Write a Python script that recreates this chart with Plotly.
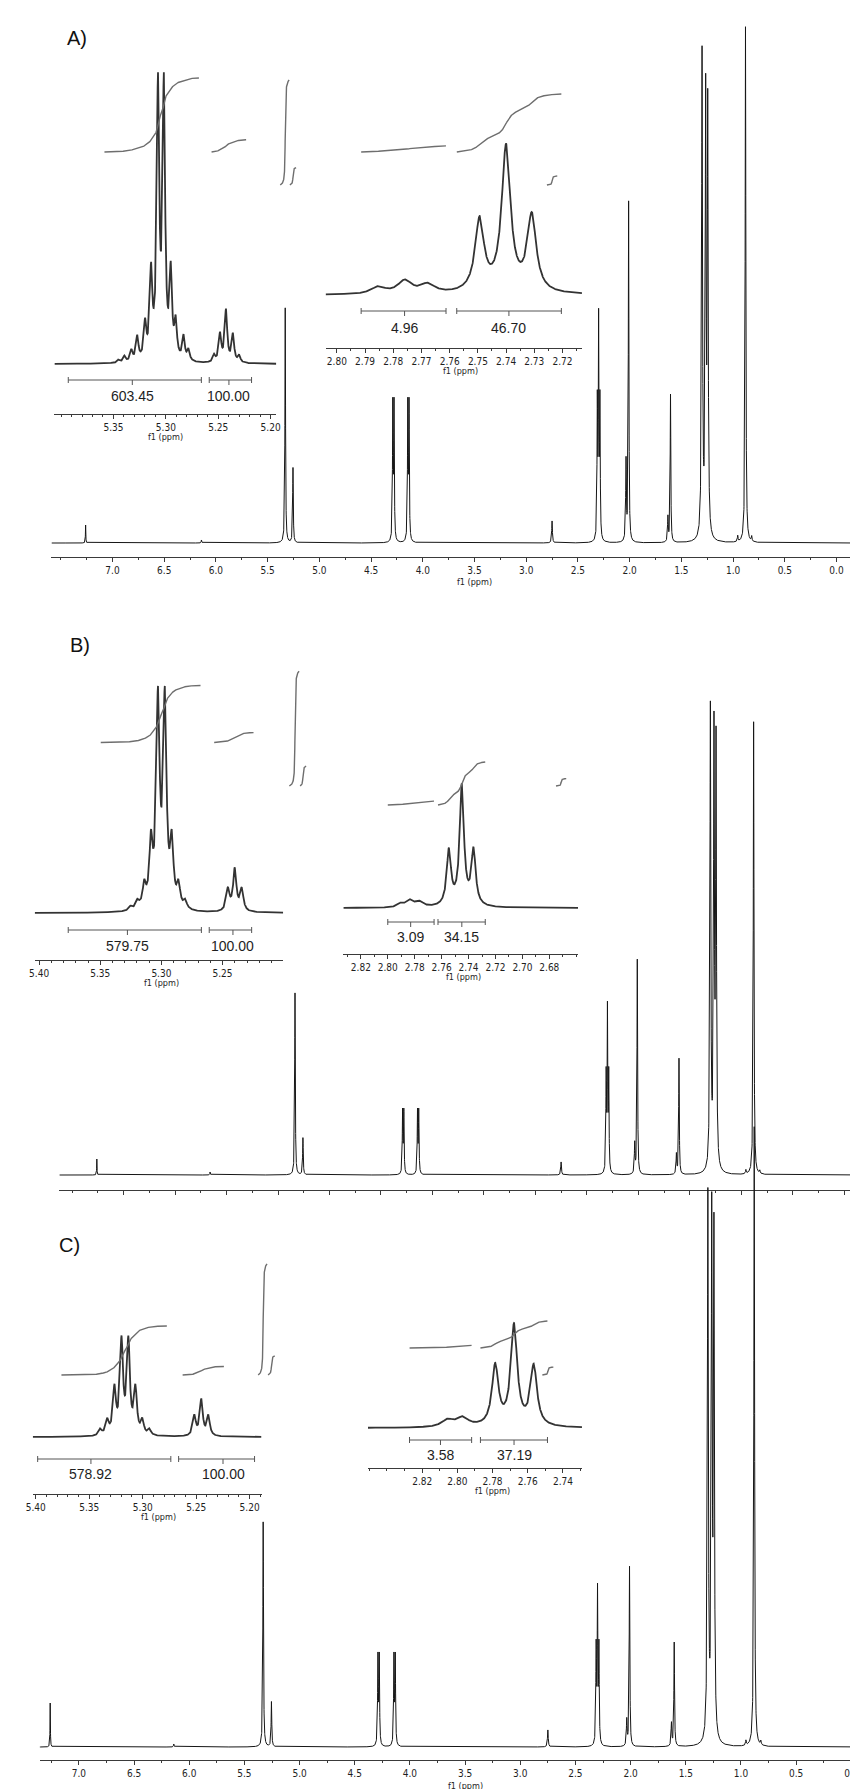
import numpy as np
import plotly.graph_objects as go

W, H = 858, 1789

# ======================= DATA =======================
# ---------- Panel A ----------
A_main_ppm = [7.26, 6.14, 5.330, 5.255, 4.290, 4.278, 4.145, 4.133, 2.750,
              2.3125, 2.300, 2.2875, 2.035, 2.010, 1.630, 1.605,
              1.300, 1.265, 1.245, 0.955, 0.880, 0.820]
A_main_int = [18, 3, 235, 75, 135, 135, 135, 135, 22,
              135, 215, 135, 80, 340, 25, 148,
              485, 435, 425, 6, 516, 5]
A_main_lw = [0.002, 0.003, 0.0035, 0.0035, 0.0035, 0.0035, 0.0035, 0.0035, 0.004,
             0.0035, 0.0035, 0.0035, 0.004, 0.0035, 0.004, 0.0035,
             0.005, 0.005, 0.005, 0.004, 0.004, 0.004]

A_in1_ppm = [5.345, 5.3395, 5.3329, 5.3273, 5.3198, 5.3141, 5.3075, 5.3019, 5.2953,
             5.2906, 5.2831, 5.2784, 5.254, 5.2483, 5.2426, 5.236, 5.230]
A_in1_int = [3, 6, 11, 24, 35, 84, 270, 270, 84, 35, 24, 11, 7, 28, 52, 28, 7]
A_in1_lw = [0.0014] * 17

A_in2_ppm = [2.7853, 2.7759, 2.7678, 2.7494, 2.7400, 2.7309]
A_in2_int = [7, 13, 9, 72, 145, 76]
A_in2_lw = [0.003, 0.003, 0.003, 0.0019, 0.0019, 0.0019]

A_in1_regions = [(5.3586, 5.2684), (5.2564, 5.2234)]
A_in1_values = [603.45, 100.00]
A_in1_bars = [(5.3931, 5.2661), (5.2586, 5.2182)]
A_in1_label_ppm = [5.332, 5.2398]
A_in2_regions = [(2.7914, 2.7613), (2.7575, 2.7204)]
A_in2_values = [4.96, 46.70]
A_in2_bars = [(2.7914, 2.7613), (2.7575, 2.7204)]
A_in2_label_ppm = [2.776, 2.739]
A_main_regions = [(5.378, 5.292), (5.285, 5.225), (2.80, 2.70)]
A_main_values = [603.45, 100.00, 4.96 + 46.70]

# ---------- Panel B ----------
B_main_ppm = [7.26, 6.16, 5.335, 5.258, 4.290, 4.278, 4.145, 4.133, 2.750,
              2.3125, 2.300, 2.2875, 2.035, 2.010, 1.630, 1.605,
              1.300, 1.265, 1.245, 0.955, 0.880, 0.820]
B_main_int = [16, 3, 182, 37, 62, 62, 62, 62, 13,
              95, 160, 95, 30, 215, 20, 116,
              462, 430, 420, 4, 453, 3]
B_main_lw = A_main_lw[:]

B_in1_ppm = [5.325, 5.3195, 5.3140, 5.3085, 5.3028, 5.2972, 5.2915, 5.286, 5.2805,
             5.2456, 5.2400, 5.2343]
B_in1_int = [4, 8, 22, 62, 205, 205, 62, 22, 8, 22, 42, 22]
B_in1_lw = [0.0016] * 12

B_in2_ppm = [2.790, 2.783, 2.776, 2.7546, 2.745, 2.7363]
B_in2_int = [4, 7, 5, 55, 120, 55]
B_in2_lw = [0.003, 0.003, 0.003, 0.0019, 0.0019, 0.0019]

B_in1_regions = [(5.3496, 5.268), (5.2569, 5.2246)]
B_in1_values = [579.75, 100.00]
B_in1_bars = [(5.3762, 5.2673), (5.2609, 5.2262)]
B_in1_label_ppm = [5.3278, 5.2415]
B_in2_regions = [(2.800, 2.7656), (2.7627, 2.7276)]
B_in2_values = [3.09, 34.15]
B_in2_bars = [(2.800, 2.7656), (2.7627, 2.7276)]
B_in2_label_ppm = [2.783, 2.745]
B_main_regions = [(5.390, 5.295), (5.285, 5.225), (2.80, 2.70)]
B_main_values = [579.75, 100.00, 3.09 + 34.15]

# ---------- Panel C ----------
C_main_ppm = [7.26, 6.14, 5.330, 5.255, 4.290, 4.278, 4.145, 4.133, 2.750,
              2.3125, 2.300, 2.2875, 2.035, 2.010, 1.630, 1.605,
              1.300, 1.265, 1.245, 0.955, 0.880, 0.820]
C_main_int = [44, 3, 225, 45, 88, 88, 88, 88, 17,
              95, 150, 95, 26, 180, 23, 104,
              545, 515, 500, 5, 620, 4]
C_main_lw = A_main_lw[:]

C_in1_ppm = [5.3396, 5.3331, 5.3264, 5.3198, 5.3134, 5.3068, 5.3003, 5.2937,
             5.2517, 5.2452, 5.2386]
C_in1_int = [6, 14, 45, 92, 92, 45, 14, 6, 20, 36, 20]
C_in1_lw = [0.00165] * 11

C_in2_ppm = [2.8055, 2.797, 2.7785, 2.7678, 2.7566]
C_in2_int = [7, 9, 60, 100, 60]
C_in2_lw = [0.004, 0.004, 0.0022, 0.0022, 0.0022]

C_in1_regions = [(5.3760, 5.2774), (5.2627, 5.2240)]
C_in1_values = [578.92, 100.00]
C_in1_bars = [(5.3982, 5.2737), (5.2664, 5.1954)]
C_in1_label_ppm = [5.3484, 5.2249]
C_in2_regions = [(2.8272, 2.7919), (2.7869, 2.7488)]
C_in2_values = [3.58, 37.19]
C_in2_bars = [(2.8272, 2.7919), (2.7869, 2.7488)]
C_in2_label_ppm = [2.8096, 2.7678]
C_main_regions = [(5.375, 5.295), (5.285, 5.225), (2.80, 2.70)]
C_main_values = [578.92, 100.00, 3.58 + 37.19]

# ---------- tick labels ----------
MAIN_TICKS = ["7.0", "6.5", "6.0", "5.5", "5.0", "4.5", "4.0", "3.5",
              "3.0", "2.5", "2.0", "1.5", "1.0", "0.5", "0.0"]
A_IN1_TICKS = ["5.35", "5.30", "5.25", "5.20"]
BC_IN1_TICKS = ["5.40", "5.35", "5.30", "5.25", "5.20"]
A_IN2_TICKS = ["2.80", "2.79", "2.78", "2.77", "2.76", "2.75", "2.74", "2.73", "2.72"]
B_IN2_TICKS = ["2.82", "2.80", "2.78", "2.76", "2.74", "2.72", "2.70", "2.68"]
C_IN2_TICKS = ["2.82", "2.80", "2.78", "2.76", "2.74"]
PANEL_LABELS = ["A)", "B)", "C)"]
AXIS_TITLE = "f1 (ppm)"

# ======================= STYLE / LAYOUT =======================
AX = '#3a3a3a'
TXT = '#1e1e1e'
C_MAIN = '#161616'
C_INSET = '#333333'
C_INT = '#6e6e6e'
TFONT = 'Liberation Sans Narrow, Arial Narrow, DejaVu Sans Condensed, Liberation Sans, sans-serif'
LFONT = 'Liberation Sans, Arial, sans-serif'


def yp(px):
    return 1 - px / H


PANELS = [
    dict(label_xy=(63, 30),
         main=dict(x0=37, x1=848, rng=(7.59, -0.1415), axis=549, base=535, top=8,
                   labels=True, f1=(3.5, 574), peaks=(A_main_ppm, A_main_int, A_main_lw),
                   ticks=MAIN_TICKS, regions=A_main_regions, values=A_main_values,
                   int_base=177, k=0.174),
         in1=dict(x0=40, x1=265, rng=(5.4063, 5.1946), axis=406, base=356, top=50,
                  minor=0.01, f1=(5.30, 429), bar_y=372, val_y=388,
                  peaks=(A_in1_ppm, A_in1_int, A_in1_lw), ticks=A_IN1_TICKS,
                  regions=A_in1_regions, values=A_in1_values, bars=A_in1_bars,
                  label_ppm=A_in1_label_ppm, int_base=144, k=0.1226),
         in2=dict(x0=315, x1=575, rng=(2.804, 2.7131), axis=340, base=287, top=110,
                  minor=0.005, f1=(2.756, 363), bar_y=303, val_y=320,
                  peaks=(A_in2_ppm, A_in2_int, A_in2_lw), ticks=A_IN2_TICKS,
                  regions=A_in2_regions, values=A_in2_values, bars=A_in2_bars,
                  label_ppm=A_in2_label_ppm, int_base=144, k=1.242),
         integ=(40, 200)),
    dict(label_xy=(66, 637),
         main=dict(x0=45, x1=858, rng=(7.624, -0.1631), axis=1182, base=1167, top=640,
                   labels=False, f1=None, peaks=(B_main_ppm, B_main_int, B_main_lw),
                   ticks=MAIN_TICKS, regions=B_main_regions, values=B_main_values,
                   int_base=778, k=0.198),
         in1=dict(x0=20, x1=272, rng=(5.4036, 5.2004), axis=952, base=905, top=640,
                  minor=0.01, f1=(5.30, 975), bar_y=922, val_y=938,
                  peaks=(B_in1_ppm, B_in1_int, B_in1_lw), ticks=BC_IN1_TICKS,
                  regions=B_in1_regions, values=B_in1_values, bars=B_in1_bars,
                  label_ppm=B_in1_label_ppm, int_base=734.5, k=0.0983),
         in2=dict(x0=333, x1=571, rng=(2.833, 2.6587), axis=946, base=900, top=740,
                  minor=0.01, f1=(2.744, 969), bar_y=914, val_y=929,
                  peaks=(B_in2_ppm, B_in2_int, B_in2_lw), ticks=B_IN2_TICKS,
                  regions=B_in2_regions, values=B_in2_values, bars=B_in2_bars,
                  label_ppm=B_in2_label_ppm, int_base=797, k=1.259),
         integ=(640, 800)),
    dict(label_xy=(55, 1237),
         main=dict(x0=25, x1=858, rng=(7.3556, -0.0877), axis=1752, base=1739, top=1100,
                   labels=True, f1=(3.5, 1778), peaks=(C_main_ppm, C_main_int, C_main_lw),
                   ticks=MAIN_TICKS, regions=C_main_regions, values=C_main_values,
                   int_base=1367, k=0.192),
         in1=dict(x0=18, x1=250, rng=(5.4028, 5.1889), axis=1486, base=1429, top=1300,
                  minor=0.01, f1=(5.2848, 1509), bar_y=1451, val_y=1466,
                  peaks=(C_in1_ppm, C_in1_int, C_in1_lw), ticks=BC_IN1_TICKS,
                  regions=C_in1_regions, values=C_in1_values, bars=C_in1_bars,
                  label_ppm=C_in1_label_ppm, int_base=1367, k=0.0846),
         in2=dict(x0=358, x1=575, rng=(2.8508, 2.7292), axis=1460, base=1420, top=1290,
                  minor=0.01, f1=(2.78, 1483), bar_y=1432, val_y=1447,
                  peaks=(C_in2_ppm, C_in2_int, C_in2_lw), ticks=C_IN2_TICKS,
                  regions=C_in2_regions, values=C_in2_values, bars=C_in2_bars,
                  label_ppm=C_in2_label_ppm, int_base=1340, k=0.726),
         integ=(1230, 1380)),
]


def lorentz_spectrum(rng, peaks, npts):
    ppm, amp, lw = (np.asarray(a, float) for a in peaks)
    lo, hi = min(rng), max(rng)
    g = np.concatenate([np.linspace(lo, hi, npts), ppm[(ppm >= lo) & (ppm <= hi)]])
    g = np.unique(g)
    d = g[:, None] - ppm[None, :]
    s = (amp[None, :] * lw[None, :] ** 2 / (d ** 2 + lw[None, :] ** 2)).sum(axis=1)
    return g, s


def integral_curve(g, s, region, value, k, offset):
    lo, hi = min(region), max(region)
    m = (g >= lo) & (g <= hi)
    x = g[m][::-1]
    y = s[m][::-1]
    cum = np.concatenate([[0.0], np.cumsum(0.5 * (y[1:] + y[:-1]) * np.abs(np.diff(x)))])
    cum = cum / cum[-1] * value * k + offset
    return x, cum


def aref(kind, i):
    return kind if i == 1 else f'{kind}{i}'


def aname(kind, i):
    return f'{kind}axis' if i == 1 else f'{kind}axis{i}'


fig = go.Figure()
lay = {}
annotations = []
shapes = []

for p, P in enumerate(PANELS):
    xi = [3 * p + 1, 3 * p + 2, 3 * p + 3]
    yi = [4 * p + 1, 4 * p + 2, 4 * p + 3, 4 * p + 4]
    it, ib = P['integ']
    yint = aref('y', yi[3])
    lay[aname('y', yi[3])] = dict(domain=[yp(ib), yp(it)], range=[0, ib - it],
                                  anchor=aref('x', xi[0]), visible=False, fixedrange=True)

    for j, key in enumerate(['main', 'in1', 'in2']):
        c = P[key]
        xr, yr = aref('x', xi[j]), aref('y', yi[j])
        tv = [float(t) for t in c['ticks']]
        lo, hi = min(c['rng']), max(c['rng'])
        if key == 'main':
            step = 0.25
            color, width, npts = C_MAIN, 1.0, 12000
        else:
            step = c['minor']
            color, width, npts = C_INSET, 1.8, 3000
        mv = [round(v, 4) for v in np.arange(np.ceil(lo / step) * step, hi + 1e-9, step)]
        mv = [v for v in mv if all(abs(v - t) > step / 4 for t in tv)]
        lay[aname('x', xi[j])] = dict(
            domain=[c['x0'] / W, c['x1'] / W], range=list(c['rng']), anchor=yr,
            showline=True, linecolor=AX, linewidth=1,
            ticks='outside', ticklen=4, tickwidth=1, tickcolor=AX,
            tickmode='array', tickvals=tv, ticktext=c['ticks'],
            showticklabels=c.get('labels', True),
            tickfont=dict(family=TFONT, size=10, color=TXT),
            minor=dict(tickmode='array', tickvals=mv, ticks='outside', ticklen=2,
                       tickwidth=1, tickcolor=AX),
            showgrid=False, zeroline=False, fixedrange=True)
        lay[aname('y', yi[j])] = dict(
            domain=[yp(c['axis']), yp(c['top'])],
            range=[-(c['axis'] - c['base']), c['base'] - c['top']],
            anchor=xr, visible=False, fixedrange=True)

        g, s = lorentz_spectrum(c['rng'], c['peaks'], npts)
        fig.add_trace(go.Scatter(x=g, y=s, xaxis=xr, yaxis=yr, mode='lines',
                                 line=dict(color=color, width=width), hoverinfo='skip',
                                 showlegend=False))

        # integral curves
        offset = ib - c['int_base']
        for reg, val in zip(c['regions'], c['values']):
            ix, iy = integral_curve(g, s, reg, val, c['k'], offset)
            fig.add_trace(go.Scatter(x=ix, y=iy, xaxis=xr, yaxis=yint, mode='lines',
                                     line=dict(color=C_INT, width=1.4), hoverinfo='skip',
                                     showlegend=False))

        if c.get('f1'):
            fx, fy = c['f1']
            annotations.append(dict(x=fx, xref=xr, y=yp(fy), yref='paper', text=AXIS_TITLE,
                                    showarrow=False, font=dict(family=TFONT, size=9, color=TXT),
                                    xanchor='center', yanchor='middle', borderpad=0))

        if key != 'main':
            by = yp(c['bar_y'])
            cap = 3 / H
            for (a, b), lp, val in zip(c['bars'], c['label_ppm'], c['values']):
                ln = dict(color='#555555', width=1)
                shapes.append(dict(type='line', xref=xr, yref='paper', x0=a, x1=b, y0=by, y1=by, line=ln))
                shapes.append(dict(type='line', xref=xr, yref='paper', x0=a, x1=a, y0=by - cap, y1=by + cap, line=ln))
                shapes.append(dict(type='line', xref=xr, yref='paper', x0=b, x1=b, y0=by - cap, y1=by + cap, line=ln))
                shapes.append(dict(type='line', xref=xr, yref='paper', x0=lp, x1=lp, y0=by, y1=by - 5 / H, line=ln))
                annotations.append(dict(x=lp, xref=xr, y=yp(c['val_y']), yref='paper',
                                        text=f'{val:.2f}', showarrow=False,
                                        font=dict(family=LFONT, size=14, color=TXT),
                                        xanchor='center', yanchor='middle'))

    lx, ly = P['label_xy']
    annotations.append(dict(x=lx / W, y=yp(ly), xref='paper', yref='paper', text=PANEL_LABELS[p],
                            showarrow=False, font=dict(family=LFONT, size=20, color='#111111'),
                            xanchor='center', yanchor='middle'))

fig.update_layout(width=W, height=H, margin=dict(l=0, r=0, t=0, b=0),
                  paper_bgcolor='white', plot_bgcolor='rgba(0,0,0,0)',
                  showlegend=False, annotations=annotations, shapes=shapes, **lay)
fig.write_html("out.html")
